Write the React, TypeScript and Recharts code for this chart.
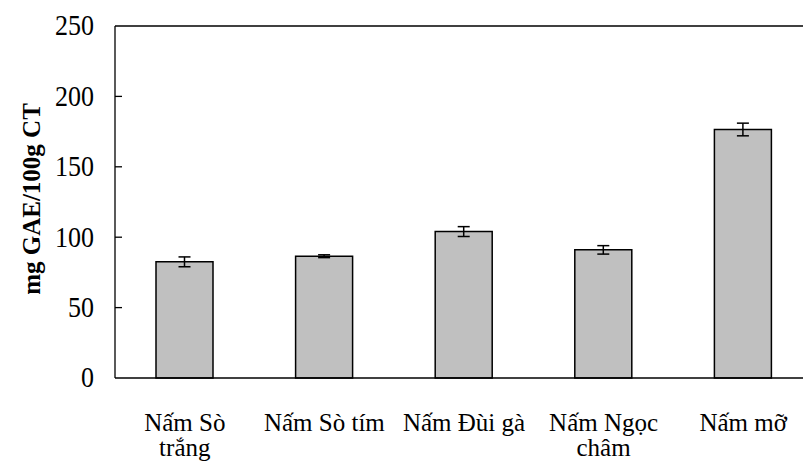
import { BarChart, Bar, XAxis, YAxis, ErrorBar, ReferenceLine } from 'recharts'

const categories = ['Nấm Sò trắng', 'Nấm Sò tím', 'Nấm Đùi gà', 'Nấm Ngọc châm', 'Nấm mỡ']
const tickLines = [['Nấm Sò', 'trắng'], ['Nấm Sò tím'], ['Nấm Đùi gà'], ['Nấm Ngọc', 'châm'], ['Nấm mỡ']]
const values = [82.5, 86.5, 104, 91, 176.5]
const errors = [3.5, 1, 3.5, 3, 4.5]
const yTicks = [0, 50, 100, 150, 200, 250]

const data = categories.map((name, i) => ({ name, value: values[i], err: errors[i] }))

const font = '"Liberation Serif", "Times New Roman", serif'

const YTick = (props: any) => {
  const { x, y, payload } = props
  return (
    <g>
      {payload.value !== 0 && payload.value !== 250 && (
        <line x1={x} y1={y} x2={x + 7} y2={y} stroke="#000" strokeWidth={1.3} />
      )}
      <text
        x={x - 21}
        y={y}
        textAnchor="end"
        dominantBaseline="central"
        fontSize={26}
        fontFamily={font}
        fill="#000"
        transform={`translate(0, ${y}) scale(1, 1.1) translate(0, ${-y})`}
      >
        {payload.value}
      </text>
    </g>
  )
}

const XTick = (props: any) => {
  const { x, y, index } = props
  const lines = tickLines[index] || []
  return (
    <g>
      {lines.map((l, i) => (
        <text key={i} x={x} y={y + 53 + i * 25} textAnchor="middle" fontSize={25} fontFamily={font} fill="#000">
          {l}
        </text>
      ))}
    </g>
  )
}

export default function App() {
  return (
    <div style={{ position: 'absolute', left: 0, top: 0, width: 803, height: 462, overflow: 'hidden', background: '#fff' }}>
      <BarChart width={820} height={462} data={data} margin={{ top: 26, right: 7, left: 0, bottom: 0 }}>
        <XAxis
          dataKey="name"
          height={84}
          tick={<XTick />}
          tickLine={false}
          tickSize={0}
          tickMargin={0}
          interval={0}
          axisLine={{ stroke: '#000', strokeWidth: 1.3 }}
        />
        <YAxis
          width={115}
          domain={[0, 250]}
          ticks={yTicks}
          tick={<YTick />}
          tickLine={false}
          tickSize={0}
          tickMargin={0}
          interval={0}
          axisLine={{ stroke: '#000', strokeWidth: 1.3 }}
        />
        <ReferenceLine y={250} stroke="#000" strokeWidth={1.3} />
        <Bar dataKey="value" fill="#c0c0c0" stroke="#000" strokeWidth={1.5} barSize={57} isAnimationActive={false}>
          <ErrorBar dataKey="err" width={6} stroke="#000" strokeWidth={1.5} direction="y" />
        </Bar>
      </BarChart>
      <svg style={{ position: 'absolute', left: 0, top: 0, pointerEvents: 'none' }} width={60} height={462}>
        <text
          x={31}
          y={199}
          transform="rotate(-90, 31, 199)"
          textAnchor="middle"
          dominantBaseline="central"
          fontSize={25}
          fontWeight="bold"
          fontFamily={font}
          fill="#000"
        >
          mg GAE/100g CT
        </text>
      </svg>
    </div>
  )
}
